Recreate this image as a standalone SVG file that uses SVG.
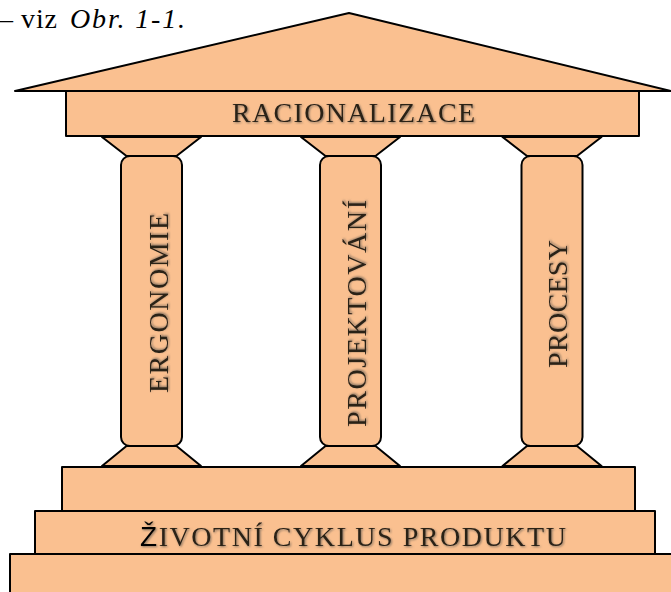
<svg xmlns="http://www.w3.org/2000/svg" width="671" height="592" viewBox="0 0 671 592">
  <defs>
    <filter id="shadow" x="-10%" y="-30%" width="120%" height="160%">
      <feGaussianBlur in="SourceAlpha" stdDeviation="0.9" result="b"/>
      <feOffset in="b" dx="1" dy="1" result="o"/>
      <feFlood flood-color="#7a6a5a" flood-opacity="0.9"/>
      <feComposite in2="o" operator="in" result="s"/>
      <feMerge><feMergeNode in="s"/><feMergeNode in="SourceGraphic"/></feMerge>
    </filter>
  </defs>
  <style>
    .part { fill: #FAC090; stroke: #000; stroke-width: 2; stroke-linejoin: round; }
    .lbl { font-family: "Liberation Serif", "Times New Roman", serif; font-size: 28px; fill: #2b2117; filter: url(#shadow); }
    .cap { font-family: "Liberation Serif", "Times New Roman", serif; font-size: 28px; fill: #000; }
  </style>
  <rect width="671" height="592" fill="#fff"/>

  <g id="caption">
    <text class="cap" x="-1" y="28">–</text>
    <text class="cap" x="21" y="28" textLength="36" lengthAdjust="spacing">viz</text>
    <text class="cap" x="70" y="28" font-style="italic" textLength="115" lengthAdjust="spacing">Obr. 1-1.</text>
  </g>

  <g id="roof">
    <polygon class="part" points="15,91 349,13 671,91"/>
  </g>

  <g id="architrave">
    <rect class="part" x="66" y="91" width="573" height="45"/>
    <text class="lbl" x="232" y="122" textLength="243" lengthAdjust="spacing">RACIONALIZACE</text>
  </g>

  <g id="column-ergonomie">
    <polygon class="part" points="102,137 201,137 176.5,156 126.5,156"/>
    <polygon class="part" points="126.5,446 176.5,446 201,466 102,466"/>
    <rect class="part" x="121" y="156" width="61" height="290" rx="9"/>
    <text class="lbl" transform="translate(168,393) rotate(-90)" x="0" y="0" textLength="180" lengthAdjust="spacing">ERGONOMIE</text>
  </g>

  <g id="column-projektovani">
    <polygon class="part" points="301,137 400,137 375.5,156 325.5,156"/>
    <polygon class="part" points="325.5,446 375.5,446 400,466 301,466"/>
    <rect class="part" x="320" y="156" width="61" height="290" rx="9"/>
    <text class="lbl" transform="translate(366,427) rotate(-90)" x="0" y="0" textLength="227" lengthAdjust="spacing">PROJEKTOVÁNÍ</text>
  </g>

  <g id="column-procesy">
    <polygon class="part" points="502.5,137 601.5,137 577,156 527,156"/>
    <polygon class="part" points="527,446 577,446 601.5,466 502.5,466"/>
    <rect class="part" x="521.5" y="156" width="61" height="290" rx="9"/>
    <text class="lbl" transform="translate(567,368) rotate(-90)" x="0" y="0" textLength="128" lengthAdjust="spacing">PROCESY</text>
  </g>

  <g id="base">
    <rect class="part" x="10" y="554" width="672" height="50"/>
    <rect class="part" x="35" y="511" width="620" height="43"/>
    <rect class="part" x="62" y="467" width="573" height="44"/>
    <text class="lbl" x="140" y="546" textLength="426" lengthAdjust="spacing"><tspan font-family="'Liberation Sans', Arial, sans-serif" fill="#000">Ž</tspan>IVOTNÍ CYKLUS PRODUKTU</text>
  </g>

  <g id="connectors"></g>
</svg>
